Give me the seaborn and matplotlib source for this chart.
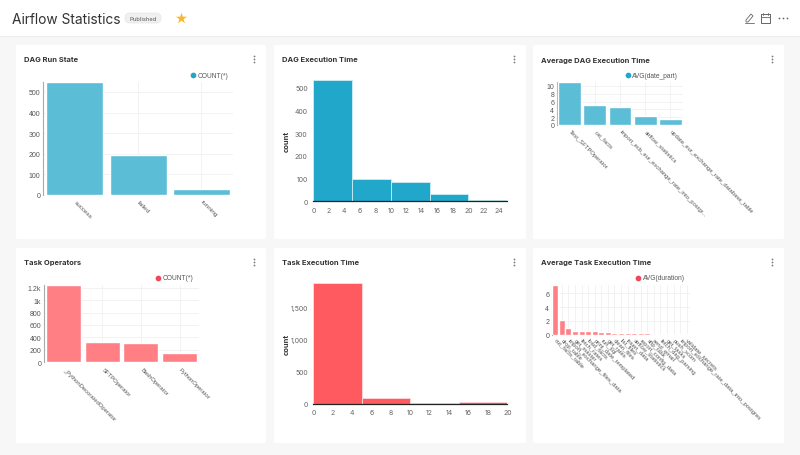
import matplotlib
matplotlib.use("Agg")
import matplotlib.pyplot as plt
import seaborn as sns
from matplotlib.patches import FancyBboxPatch, Rectangle, Polygon
from matplotlib.ticker import FuncFormatter

dag_states = ["success", "failed", "running"]
dag_state_counts = [548, 192, 28]

dag_time_edges = [0, 5, 10, 15, 20, 25]
dag_time_counts = [532, 100, 85, 32, 5]

dag_names = ["Test_SFTPOperator", "cat_facts", "import_ecb_eur_exchange_rate_into_postgr...",
             "airflow_statistics", "update_eur_exchange_rate_database_table"]
dag_avg = [11, 5.2, 4.5, 2.4, 1.5]

operators = ["_PythonDecoratedOperator", "SFTPOperator", "BashOperator", "PythonOperator"]
operator_counts = [1248, 322, 315, 148]

task_time_edges = [0, 5, 10, 15, 20]
task_time_counts = [1890, 90, 5, 30]

task_names = ["cut_facts_table", "drop_table", "import_exchange_files_data", "get_master",
              "fetch_rates", "load_facts", "print_date_templated", "run_sql", "get_rates",
              "clean_files", "list_files", "insert_data", "airflow_statistics",
              "report_config_data", "sftp_task", "send_email", "fetch_dag_parsing",
              "get_tasks", "push_xcom", "import_exchange_rate_data_into_postgres",
              "validate_secrets"]
task_avg = [7.25, 2.1, 0.9, 0.5, 0.5, 0.5, 0.5, 0.35, 0.35, 0.3, 0.3, 0.28,
            0.22, 0.2, 0.18, 0.15, 0.14, 0.12, 0.1, 0.06, 0.04]

BLUE = "#20A7C9"
BLUE_LIGHT = "#5BBDD6"
RED = "#FF5A60"
RED_LIGHT = "#FF7F85"
SMALL_FONT = "Liberation Sans"
W, H = 800, 456

sns.set_theme(style="white")
plt.rcParams["font.family"] = ["Inter", "DejaVu Sans"]

fig = plt.figure(figsize=(8, 4.56), dpi=100, facecolor="#F7F7F7")

# full figure layer in pixel coords for header and cards
bg = fig.add_axes([0, 0, 1, 1], zorder=0)
bg.set_xlim(0, W)
bg.set_ylim(H, 0)
bg.axis("off")
bg.add_patch(Rectangle((0, 1), W, 36, fc="white", ec="none"))
bg.plot([0, W], [37, 37], color="#EDEDED", lw=0.8)

bg.text(12, 19.5, "Airflow Statistics", fontsize=9.9, color="#333333", va="center")
bg.add_patch(FancyBboxPatch((125, 14), 36, 10, boxstyle="round,pad=0,rounding_size=5",
                            fc="#F0F0F0", ec="#E6E6E6", lw=0.5))
bg.text(143, 19.2, "Published", fontsize=4.2, color="#555555", ha="center", va="center")
bg.scatter([181], [19], marker="*", s=70, color="#F5B82E", linewidths=0)

# toolbar icons
bg.add_patch(Polygon([(746, 21), (751, 15), (753, 17), (748, 23), (746, 23)],
                     fc="none", ec="#666666", lw=0.6))
bg.plot([745, 754], [24, 24], color="#666666", lw=0.6)
bg.add_patch(Rectangle((761, 15), 9, 9, fc="none", ec="#666666", lw=0.7))
bg.plot([761, 770], [18, 18], color="#666666", lw=0.6)
bg.plot([763, 763], [14, 16], color="#666666", lw=0.6)
bg.plot([768, 768], [14, 16], color="#666666", lw=0.6)
bg.scatter([779, 783, 787], [18.5, 18.5, 18.5], s=1.6, color="#666666", linewidths=0)

cards = [(16, 46, 250, 194), (274, 46, 252, 194), (533, 46, 251, 194),
         (16, 249, 250, 195), (274, 249, 252, 195), (533, 249, 251, 195)]
titles = ["DAG Run State", "DAG Execution Time", "Average DAG Execution Time",
          "Task Operators", "Task Execution Time", "Average Task Execution Time"]
for (x, y, w, h), title in zip(cards, titles):
    bg.add_patch(FancyBboxPatch((x, y), w, h, boxstyle="round,pad=0,rounding_size=2",
                                fc="white", ec="none"))
    bg.text(x + 8, y + 14.5, title, fontsize=5.45, fontweight="bold", color="#333333", va="center")
    bg.scatter([x + w - 12] * 3, [y + 11, y + 14, y + 17], s=1.6, color="#777777", linewidths=0)


def make_axes(left, right, top, bottom):
    ax = fig.add_axes([left / W, 1 - bottom / H, (right - left) / W, (bottom - top) / H], zorder=2)
    ax.patch.set_alpha(0)
    sns.despine(ax=ax)
    return ax


def bar_panel(box, cats, vals, color, ymax, yticks, ylabels=None, fs=4.2, width=0.9, pad=4):
    ax = make_axes(*box)
    sns.barplot(x=cats, y=vals, color=color, saturation=1, width=width, ax=ax, zorder=3)
    ax.set_xlim(-0.5, len(cats) - 0.5)
    ax.set_ylim(0, ymax)
    ax.set_yticks(yticks)
    if ylabels:
        ax.set_yticklabels(ylabels)
    ax.grid(True, color="#F0F0F0", lw=0.6)
    ax.set_axisbelow(True)
    ax.spines["left"].set_color("#AAAAAA")
    ax.spines["left"].set_linewidth(0.8)
    ax.spines["bottom"].set_visible(False)
    ax.tick_params(axis="y", length=0, labelsize=5, labelcolor="#555555", pad=2)
    ax.tick_params(axis="x", length=0, pad=pad)
    plt.setp(ax.get_xticklabels(), rotation=-45, ha="left", va="center",
             rotation_mode="anchor", fontsize=fs, color="#555555", family=SMALL_FONT)
    plt.setp(ax.get_yticklabels(), family=SMALL_FONT)
    return ax


def hist_panel(box, edges, counts, color, edge, xmax, xticks, ymax, yticks):
    ax = make_axes(*box)
    sns.histplot(x=edges[:-1], weights=counts, bins=edges, color=color, alpha=1,
                 edgecolor=edge, linewidth=0.6, ax=ax)
    ax.set_xlim(0, xmax)
    ax.set_ylim(0, ymax)
    ax.set_xticks(xticks)
    ax.set_yticks(yticks)
    ax.yaxis.set_major_formatter(FuncFormatter(lambda v, p: f"{int(v):,}"))
    ax.set_ylabel("count", fontsize=5.4, fontweight="bold", color="#333333", labelpad=0)
    ax.yaxis.set_label_coords((290 - box[0]) / (box[1] - box[0]), 0.5)
    ax.spines["left"].set_visible(False)
    ax.spines["bottom"].set_color("#222222")
    ax.spines["bottom"].set_linewidth(0.9)
    ax.tick_params(axis="both", length=1.5, width=0.4, color="#BBBBBB",
                   labelsize=5, labelcolor="#666666", pad=2.5)
    return ax


bar_panel((43.3, 233, 83, 196), dag_states, dag_state_counts, BLUE_LIGHT, 548,
          [0, 100, 200, 300, 400, 500], fs=4.6)
hist_panel((313.3, 507, 81.3, 202.3), dag_time_edges, dag_time_counts, BLUE, "#CDEEF6", 25,
           list(range(0, 25, 2)), 532, [0, 100, 200, 300, 400, 500])
bar_panel((557, 683, 83, 126), dag_names, dag_avg, BLUE_LIGHT, 11, [0, 2, 4, 6, 8, 10])
bar_panel((44, 199, 285.7, 363.3), operators, operator_counts, RED_LIGHT, 1248,
          [0, 200, 400, 600, 800, 1000, 1200], ["0", "200", "400", "600", "800", "1k", "1.2k"])
hist_panel((313.3, 507.3, 283.7, 404.7), task_time_edges, task_time_counts, RED, "#FFD9DB", 20,
           list(range(0, 21, 2)), 1890, [0, 500, 1000, 1500])
bar_panel((552, 690, 285.7, 335.7), task_names, task_avg, RED_LIGHT, 7.25, [0, 2, 4, 6], pad=3)

# legends
legends = [(193, 76, "COUNT(*)", BLUE), (627.5, 76, "AVG(date_part)", BLUE),
           (158, 278.5, "COUNT(*)", "#F0485A"), (638, 278.5, "AVG(duration)", "#F0485A")]
for x, y, label, color in legends:
    bg.scatter([x], [y], s=17, color=color, linewidths=0, zorder=3)
    bg.text(x + 4.5, y, label, fontsize=4.8, color="#555555", va="center", family=SMALL_FONT)

fig.savefig("out.png", dpi=100, facecolor=fig.get_facecolor())
